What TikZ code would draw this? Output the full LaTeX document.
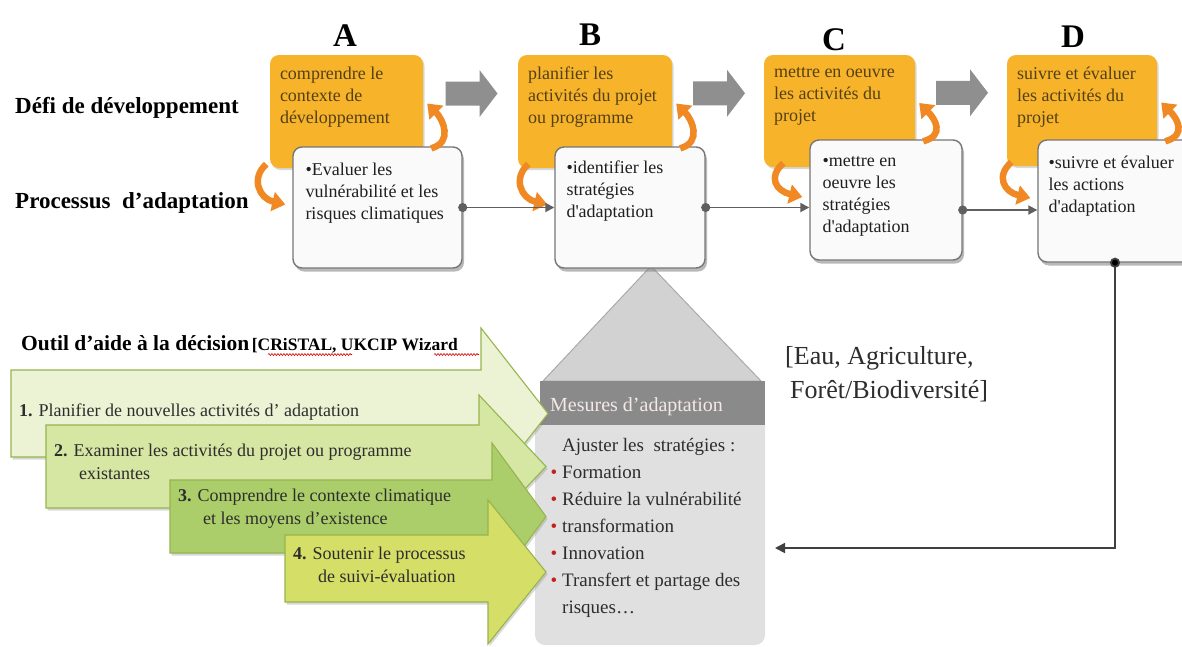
\documentclass[tikz,border=0pt]{standalone}
\usepackage{fontspec}
\setmainfont{Liberation Serif}
\usetikzlibrary{arrows.meta,calc,shadows,decorations.pathmorphing}

\definecolor{orangeF}{RGB}{247,180,42}
\definecolor{orangeC}{RGB}{240,136,36}
\definecolor{otext}{RGB}{84,64,22}
\definecolor{wfill}{RGB}{250,250,250}
\definecolor{wdraw}{RGB}{118,118,118}
\definecolor{blockgray}{RGB}{143,143,143}
\definecolor{conngray}{RGB}{95,95,95}
\definecolor{roofgray}{RGB}{210,210,210}
\definecolor{roofedge}{RGB}{170,170,170}
\definecolor{hdrgray}{RGB}{138,138,138}
\definecolor{bodygray}{RGB}{224,224,224}
\definecolor{gA}{RGB}{236,243,212}
\definecolor{gB}{RGB}{214,230,163}
\definecolor{gC}{RGB}{171,206,106}
\definecolor{gD}{RGB}{213,222,102}
\definecolor{gline}{RGB}{150,180,80}
\definecolor{bulred}{RGB}{196,32,32}
\definecolor{txtdark}{RGB}{45,45,45}
\definecolor{hdrtext}{RGB}{244,232,232}

\tikzset{
  obox/.style={rectangle, rounded corners=9pt, fill=orangeF, inner sep=0pt,
    drop shadow={shadow xshift=1.5pt, shadow yshift=-2pt, opacity=.3}},
  wbox/.style={rectangle, rounded corners=9pt, fill=wfill, draw=wdraw, line width=1.4pt, inner sep=0pt,
    drop shadow={shadow xshift=2pt, shadow yshift=-3.5pt, opacity=.55}},
  letter/.style={font=\bfseries\fontsize{33}{36}\selectfont, anchor=base, inner sep=0pt},
  rowlab/.style={font=\bfseries\fontsize{23}{26}\selectfont, anchor=base west, inner sep=0pt},
  otxt/.style={anchor=north west, inner sep=0pt, align=left, text=otext,
    font=\fontsize{18}{22}\selectfont, execute at begin node=\strut},
  wtxt/.style={anchor=north west, inner sep=0pt, align=left, text=black!88,
    font=\fontsize{18}{22}\selectfont, execute at begin node=\strut},
  gtxt/.style={anchor=north west, inner sep=0pt, align=left, text=txtdark,
    font=\fontsize{18}{23}\selectfont, execute at begin node=\strut},
  curv/.style={draw=orangeC, line width=6.5pt, -{Triangle[length=13pt,width=19pt]}},
  blockarrow/.style={fill=blockgray},
  conn/.style={draw=conngray, line width=1.8pt, shorten <=-4.5pt,
    {Circle[length=9pt]}-{Triangle[length=9pt,width=9pt]}},
  fb/.style={draw=black!75, line width=1.8pt, shorten <=-5pt,
    {Circle[length=10pt,fill=black]}-{Triangle[length=10pt,width=10pt]}},
  garrow/.style={draw=gline, line width=1.1pt,
    drop shadow={shadow xshift=1.5pt, shadow yshift=-2.5pt, opacity=.3}},
  spell/.style={draw=red!85!black, line width=.6pt, decorate,
    decoration={snake, amplitude=1pt, segment length=3pt}}
}

\begin{document}
\begin{tikzpicture}[x=1pt,y=-1pt]
\useasboundingbox (0,0) rectangle (1182,646);
\fill[white] (0,0) rectangle (1182,646);

% column letters
\node[letter] (lA) at (345,46) {A};
\node[letter] (lB) at (590,45) {B};
\node[letter] (lC) at (834,50) {C};
\node[letter] (lD) at (1073,47) {D};

% row labels
\node[rowlab] (defi) at (15,113) {Défi de développement};
\node[rowlab] (proc) at (15,208) {Processus\ \ d’adaptation};

% roof of the measures panel
\filldraw[fill=roofgray, draw=roofedge, line width=1pt] (543,381) -- (651,266) -- (761,381) -- cycle;

% development steps
\node[obox, minimum width=153, minimum height=113] (oA) at (346.5,111.5) {};
\node[obox, minimum width=154, minimum height=113] (oB) at (595,111.5) {};
\node[obox, minimum width=151, minimum height=112] (oC) at (839.5,111) {};
\node[obox, minimum width=150, minimum height=111] (oD) at (1082,110.5) {};

% adaptation steps
\node[wbox, minimum width=169, minimum height=121] (wA) at (377.5,207.5) {};
\node[wbox, minimum width=150, minimum height=121] (wB) at (630,207.5) {};
\node[wbox, minimum width=152, minimum height=120] (wC) at (886,200) {};
\node[wbox, minimum width=154, minimum height=122] (wD) at (1115,201) {};

% texts of the steps
\node[otxt] (otA) at ([shift={(10,12)}]oA.north west) {comprendre le\\contexte de\\développement};
\node[otxt] (otB) at ([shift={(10,12)}]oB.north west) {planifier les\\activités du projet\\ou programme};
\node[otxt] (otC) at ([shift={(10,12)}]oC.north west) {mettre en oeuvre\\les activités du\\projet};
\node[otxt] (otD) at ([shift={(10,12)}]oD.north west) {suivre et évaluer\\les activités du\\projet};

\node[wtxt] (wtA) at ([shift={(13,16.6)}]wA.north west) {•Evaluer les\\vulnérabilité et les\\risques climatiques};
\node[wtxt] (wtB) at ([shift={(12,14.6)}]wB.north west) {•identifier les\\stratégies\\d\textquotesingle adaptation};
\node[wtxt] (wtC) at ([shift={(13,16.6)}]wC.north west) {•mettre en\\oeuvre les\\stratégies\\d\textquotesingle adaptation};
\node[wtxt] (wtD) at ([shift={(11,16.6)}]wD.north west) {•suivre et évaluer\\les actions\\d\textquotesingle adaptation};

% curved exchange arrows between the two rows
\foreach \k in {A,B,C,D}{
  \draw[curv] ($(w\k.west |- o\k.south)+(-26,-4)$) .. controls +(-16,14) and +(-26,-6) .. ($(w\k.west)+(-7,-3)$);
  \draw[curv] ($(o\k.east |- w\k.north)+(8,2)$) .. controls +(22,-6) and +(16,16) .. ($(o\k.east)+(4,-8)$);
}

% block arrows between development steps
\foreach \a/\b in {A/B,B/C,C/D}{
  \coordinate (g\a\b) at ($(o\a.east)!.5!(o\b.west)+(0,-18)$);
  \fill[blockarrow] ($(g\a\b)+(-25,-12)$) -- ++(34,0) -- ++(0,-11.5) -- ++(18,23.5)
        -- ++(-18,23.5) -- ++(0,-11.5) -- ++(-34,0) -- cycle;
}

% links between adaptation steps
\draw[conn] (wA.east) -- (wB.west);
\draw[conn] (wB.east) -- (wB.east -| wC.west);
\coordinate (cC) at ($(wC.east)+(0,10)$);
\draw[conn] (cC) -- (cC -| wD.west);

% feedback to the measures
\coordinate (fbEnd) at (775,548);
\draw[fb] (wD.south) |- (fbEnd);

% measures panel
\fill[hdrgray] (540,381) rectangle (765,425);
\fill[bodygray] (535,425) -- (765,425) {[rounded corners=10pt] -- (765,645) -- (535,645)} -- cycle;
\node[anchor=base west, inner sep=0pt, text=hdrtext, font=\fontsize{20}{24}\selectfont] (mes) at (550,411) {Mesures d’adaptation};
\node[anchor=north west, inner sep=0pt, align=left, text=txtdark, font=\fontsize{19}{27}\selectfont,
      execute at begin node=\strut] (mlist) at (562,437.6)
  {Ajuster les\ \ stratégies :\\
   \llap{\textcolor{bulred}{•}\hspace{5pt}}Formation\\
   \llap{\textcolor{bulred}{•}\hspace{5pt}}Réduire la vulnérabilité\\
   \llap{\textcolor{bulred}{•}\hspace{5pt}}transformation\\
   \llap{\textcolor{bulred}{•}\hspace{5pt}}Innovation\\
   \llap{\textcolor{bulred}{•}\hspace{5pt}}Transfert et partage des\\
   risques…};

% sectors
\node[anchor=north west, inner sep=0pt, align=left, text=txtdark, font=\fontsize{26}{34}\selectfont,
      execute at begin node=\strut] (sect) at (785,346.2)
  {[Eau, Agriculture,\\\hspace*{5pt}Forêt/Biodiversité]};

% decision tools
\node[anchor=base west, inner sep=0pt, text=black] (outil) at (21,350)
  {{\bfseries\fontsize{21.5}{24}\selectfont Outil d’aide à la décision}
   {\bfseries\fontsize{17.5}{20}\selectfont[CRiSTAL, UKCIP Wizard}};
\draw[spell] (268,354.5) -- (352,354.5);
\draw[spell] (434,354.5) -- (479,354.5);

\filldraw[garrow, fill=gA] (11,370) -- (481,370) -- (481,328) -- (548,413.5) -- (481,499) -- (481,457) -- (11,457) -- cycle;
\node[gtxt] (t1) at (19,400.4) {\textbf{1.} Planifier de nouvelles activités d’ adaptation};

\filldraw[garrow, fill=gB] (46,425) -- (479,425) -- (479,395) -- (546,466.5) -- (479,538) -- (479,508) -- (46,508) -- cycle;
\node[gtxt] (t2) at (54,443.4) {\textbf{2.} Examiner les activités du projet ou programme\\\hspace*{25pt}existantes};

\filldraw[garrow, fill=gC] (170,480) -- (492,480) -- (492,443) -- (546,516.5) -- (492,590) -- (492,553) -- (170,553) -- cycle;
\node[gtxt] (t3) at (178,488.4) {\textbf{3.} Comprendre le contexte climatique\\\hspace*{25pt}et les moyens d’existence};

\filldraw[garrow, fill=gD] (285,535) -- (488,535) -- (488,500) -- (546,572) -- (488,644) -- (488,602) -- (285,602) -- cycle;
\node[gtxt] (t4) at (293,546.4) {\textbf{4.} Soutenir le processus\\\hspace*{25pt}de suivi-évaluation};

\end{tikzpicture}
\end{document}
